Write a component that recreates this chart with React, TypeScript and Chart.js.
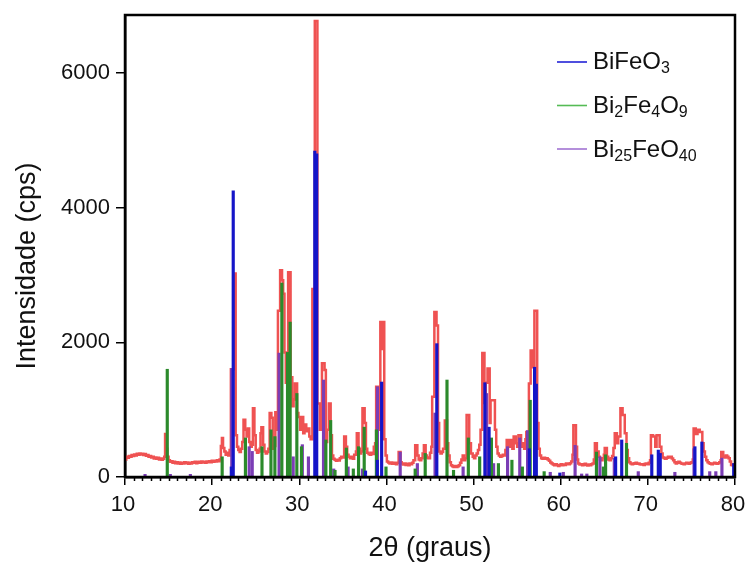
import { useEffect, useRef } from "react";
import { Chart, registerables } from "chart.js";

Chart.register(...registerables);

const FAMILY = "'Liberation Sans', Arial, Helvetica, sans-serif";

// axis ranges and tick values
const X_MIN = 10;
const X_MAX = 80;
const Y_MIN = 0;
const Y_MAX = 6860;
const X_TICKS = [10, 20, 30, 40, 50, 60, 70, 80];
const Y_TICKS = [0, 2000, 4000, 6000];

const X_TITLE = "2θ (graus)";
const Y_TITLE = "Intensidade (cps)";

// measured diffractogram: [2θ where the step starts, intensity in cps]
const measured: [number, number][] = [
  [10.0, 260], [10.15, 300], [10.3, 285], [10.45, 310], [10.6, 300], [10.75, 325], [10.9, 310], [11.05, 335],
  [11.2, 320], [11.35, 345], [11.5, 330], [11.65, 350], [11.8, 335], [11.95, 345], [12.1, 325], [12.25, 340],
  [12.4, 315], [12.55, 325], [12.7, 300], [12.85, 310], [13.0, 290], [13.15, 300], [13.3, 275], [13.45, 290],
  [13.6, 270], [13.75, 285], [13.9, 260], [14.05, 275], [14.2, 255], [14.35, 270], [14.5, 300], [14.6, 640],
  [14.72, 420], [14.85, 300], [15.0, 250], [15.15, 225], [15.3, 235], [15.45, 210], [15.6, 225], [15.75, 205],
  [15.9, 220], [16.05, 200], [16.2, 215], [16.35, 195], [16.5, 210], [16.65, 200], [16.8, 220], [16.95, 205],
  [17.1, 215], [17.25, 195], [17.4, 210], [17.55, 200], [17.7, 220], [17.85, 210], [18.0, 225], [18.15, 205],
  [18.3, 215], [18.45, 225], [18.6, 210], [18.75, 230], [18.9, 215], [19.05, 225], [19.2, 210], [19.35, 230],
  [19.5, 220], [19.65, 235], [19.8, 220], [19.95, 240], [20.1, 225], [20.25, 240], [20.4, 230], [20.55, 250],
  [20.7, 235], [20.85, 260], [21.0, 460], [21.12, 580], [21.25, 430], [21.4, 380], [21.55, 330], [21.7, 360],
  [21.85, 320], [22.0, 400], [22.15, 1600], [22.42, 3020], [22.7, 620], [22.85, 450], [23.0, 400], [23.15, 370],
  [23.3, 420], [23.45, 520], [23.6, 850], [23.8, 700], [23.95, 600], [24.1, 720], [24.25, 520], [24.4, 450],
  [24.55, 480], [24.68, 1020], [24.85, 620], [25.0, 400], [25.15, 360], [25.3, 380], [25.45, 420], [25.55, 650],
  [25.65, 740], [25.85, 480], [26.0, 380], [26.15, 350], [26.3, 370], [26.45, 420], [26.6, 950], [26.8, 880],
  [26.95, 420], [27.1, 460], [27.25, 960], [27.4, 700], [27.55, 2470], [27.8, 3070], [28.02, 2920], [28.15, 2720],
  [28.3, 1850], [28.45, 1400], [28.6, 1700], [28.72, 3040], [29.0, 1480], [29.2, 1050], [29.35, 1150], [29.5, 1390],
  [29.75, 950], [29.9, 890], [30.1, 700], [30.25, 890], [30.45, 650], [30.6, 780], [30.8, 680], [30.95, 720],
  [31.15, 600], [31.3, 560], [31.5, 2790], [31.78, 6770], [32.08, 1090], [32.35, 700], [32.6, 1690], [32.9, 1590],
  [33.05, 520], [33.2, 700], [33.4, 1090], [33.6, 620], [33.75, 320], [33.9, 270], [34.05, 255], [34.2, 240],
  [34.35, 255], [34.5, 245], [34.65, 280], [34.8, 300], [35.0, 290], [35.15, 600], [35.35, 450], [35.5, 330],
  [35.65, 300], [35.8, 280], [36.0, 300], [36.15, 270], [36.3, 330], [36.5, 380], [36.6, 650], [36.8, 420],
  [36.95, 350], [37.1, 380], [37.25, 1020], [37.5, 800], [37.65, 420], [37.8, 360], [37.95, 340], [38.1, 330],
  [38.25, 360], [38.4, 340], [38.55, 450], [38.7, 500], [38.82, 1340], [39.05, 700], [39.3, 2300], [39.45, 1900],
  [39.6, 2300], [39.75, 560], [39.9, 320], [40.05, 230], [40.2, 215], [40.35, 200], [40.5, 215], [40.65, 195],
  [40.8, 210], [40.95, 200], [41.1, 190], [41.25, 210], [41.4, 370], [41.62, 220], [41.75, 200], [41.9, 185],
  [42.05, 200], [42.2, 180], [42.35, 195], [42.5, 175], [42.65, 200], [42.8, 190], [42.95, 210], [43.1, 250],
  [43.3, 470], [43.55, 320], [43.7, 260], [43.85, 250], [44.0, 280], [44.15, 350], [44.3, 470], [44.5, 320],
  [44.65, 290], [44.8, 280], [45.0, 360], [45.15, 450], [45.25, 1190], [45.5, 2450], [45.75, 2250], [45.92, 800],
  [46.05, 380], [46.2, 350], [46.35, 370], [46.5, 420], [46.7, 840], [46.95, 500], [47.1, 320], [47.25, 220],
  [47.4, 175], [47.55, 160], [47.7, 150], [47.85, 165], [48.0, 150], [48.15, 160], [48.3, 175], [48.45, 210],
  [48.6, 260], [48.75, 320], [48.9, 250], [49.05, 280], [49.2, 920], [49.5, 500], [49.7, 350], [49.9, 300],
  [50.05, 280], [50.2, 320], [50.35, 350], [50.5, 400], [50.65, 480], [50.8, 700], [51.0, 1840], [51.25, 1100],
  [51.4, 1400], [51.6, 1610], [51.85, 800], [51.95, 1140], [52.45, 700], [52.6, 450], [52.75, 350], [52.9, 320],
  [53.05, 300], [53.2, 310], [53.35, 330], [53.5, 320], [53.65, 400], [53.8, 550], [54.05, 450], [54.2, 550],
  [54.45, 420], [54.6, 600], [54.85, 500], [55.0, 450], [55.15, 620], [55.45, 450], [55.6, 500], [55.8, 420],
  [55.95, 560], [56.05, 670], [56.35, 1390], [56.55, 1880], [56.8, 1630], [56.98, 2470], [57.3, 800], [57.45, 420],
  [57.6, 320], [57.75, 280], [57.9, 270], [58.05, 285], [58.2, 270], [58.35, 280], [58.5, 260], [58.65, 240],
  [58.8, 215], [58.95, 200], [59.1, 185], [59.25, 175], [59.4, 190], [59.55, 175], [59.7, 165], [59.85, 180],
  [60.0, 190], [60.15, 175], [60.3, 185], [60.45, 180], [60.6, 200], [60.75, 195], [60.9, 190], [61.05, 205],
  [61.2, 230], [61.35, 330], [61.45, 770], [61.75, 450], [61.88, 260], [62.0, 200], [62.15, 185], [62.3, 190],
  [62.45, 175], [62.6, 185], [62.75, 195], [62.9, 180], [63.05, 170], [63.2, 185], [63.35, 175], [63.5, 190],
  [63.65, 200], [63.8, 260], [63.92, 500], [64.15, 380], [64.35, 300], [64.5, 260], [64.65, 250], [64.8, 280],
  [64.95, 330], [65.05, 430], [65.3, 300], [65.45, 260], [65.6, 250], [65.75, 280], [65.9, 310], [66.05, 430],
  [66.2, 650], [66.45, 500], [66.6, 600], [66.85, 1020], [67.1, 920], [67.35, 650], [67.55, 400], [67.7, 280],
  [67.85, 220], [68.0, 200], [68.15, 190], [68.3, 195], [68.45, 205], [68.6, 210], [68.75, 195], [68.9, 200],
  [69.05, 190], [69.2, 185], [69.35, 190], [69.5, 180], [69.65, 195], [69.8, 200], [69.95, 190], [70.1, 210],
  [70.25, 250], [70.35, 620], [70.6, 600], [70.85, 450], [71.0, 620], [71.35, 450], [71.55, 350], [71.7, 290],
  [71.85, 280], [72.0, 270], [72.15, 285], [72.3, 300], [72.45, 290], [72.6, 300], [72.75, 275], [72.9, 250],
  [73.05, 220], [73.2, 200], [73.35, 210], [73.5, 225], [73.65, 210], [73.8, 200], [73.95, 195], [74.1, 190],
  [74.25, 200], [74.4, 210], [74.55, 200], [74.7, 195], [74.85, 210], [75.0, 220], [75.15, 260], [75.25, 720],
  [75.5, 640], [75.7, 700], [75.95, 670], [76.25, 500], [76.4, 380], [76.55, 300], [76.7, 250], [76.85, 220],
  [77.0, 205], [77.15, 195], [77.3, 190], [77.45, 200], [77.6, 210], [77.75, 200], [77.9, 195], [78.05, 205],
  [78.2, 220], [78.35, 250], [78.42, 370], [78.65, 300], [78.8, 290], [78.95, 320], [79.1, 300], [79.25, 280],
  [79.4, 230], [79.55, 180], [79.7, 175], [79.85, 190], [80.0, 200],
];

// reference patterns: [2θ, intensity]
const bifeo3: [number, number][] = [
  [22.2, 150], [22.42, 4250], [31.78, 4840], [32.0, 4800], [37.6, 90], [38.95, 250], [39.45, 1410],
  [45.78, 1980], [51.3, 1400], [51.78, 740], [56.4, 420], [57.0, 1630], [57.2, 1380], [59.9, 60],
  [66.3, 300], [67.0, 550], [70.45, 330], [71.2, 400], [71.42, 350], [75.4, 450], [76.2, 520], [79.85, 200],
];

const bi2fe4o9: [number, number][] = [
  [14.85, 1600], [21.15, 300], [23.82, 580], [25.72, 450], [26.75, 700], [27.2, 600], [28.0, 2880],
  [28.65, 1850], [28.95, 2300], [29.72, 1240], [30.25, 450], [33.05, 550], [33.6, 840], [34.1, 100],
  [35.4, 430], [36.2, 120], [36.8, 450], [37.45, 740], [38.85, 700], [39.95, 150], [43.3, 120],
  [44.45, 350], [46.95, 1440], [47.7, 100], [49.4, 580], [50.7, 300], [52.05, 580], [52.85, 200],
  [54.4, 250], [55.6, 150], [56.5, 1140], [58.1, 80], [64.1, 370], [64.9, 150], [65.15, 330], [67.55, 500],
];

const bi25feo40: [number, number][] = [
  [12.3, 40], [15.2, 40], [17.5, 40], [22.25, 1610], [24.25, 450], [24.6, 380], [27.68, 1840],
  [29.3, 300], [30.35, 480], [31.05, 300], [32.78, 1440], [33.95, 120], [35.6, 150], [37.25, 120],
  [38.97, 1340], [41.58, 370], [43.55, 200], [45.58, 950], [48.8, 150], [51.5, 1240], [52.3, 200],
  [53.9, 450], [55.3, 580], [56.2, 690], [58.8, 70], [60.3, 70], [61.65, 470], [62.4, 45], [63.0, 45],
  [64.5, 300], [66.15, 280], [68.9, 80], [73.1, 70], [75.3, 420], [77.1, 80], [77.8, 80], [78.5, 280],
];

// legend labels split into normal / subscript runs
const legendLabels: [string, boolean][][] = [
  [["BiFeO", false], ["3", true]],
  [["Bi", false], ["2", true], ["Fe", false], ["4", true], ["O", false], ["9", true]],
  [["Bi", false], ["25", true], ["FeO", false], ["40", true]],
];

const RED = "#ef5252";
const STICK_COLORS = ["#1515c8", "#2b8a2b", "#7b3db5"];
const LEGEND_COLORS = ["#2323d6", "#55bb55", "#a274d2"];

const toXY = (arr: [number, number][]) => arr.map(([x, y]) => ({ x, y }));

const framePlugin = {
  id: "frame",
  afterDraw(chart: any) {
    const { ctx, chartArea, scales } = chart;
    const { left, right, top, bottom } = chartArea;
    const xs = scales.x;
    ctx.save();
    // minor ticks every degree
    ctx.strokeStyle = "#000";
    ctx.lineWidth = 1.5;
    for (let v = X_MIN; v <= X_MAX; v += 1) {
      if (v % 10 === 0) continue;
      const px = Math.round(xs.getPixelForValue(v)) + 0.5;
      ctx.beginPath();
      ctx.moveTo(px, bottom);
      ctx.lineTo(px, bottom + 4);
      ctx.stroke();
    }
    // box
    ctx.lineWidth = 2.5;
    ctx.strokeRect(left, top, right - left, bottom - top);

    // axis titles
    ctx.fillStyle = "#111";
    ctx.font = `27px ${FAMILY}`;
    ctx.textAlign = "center";
    ctx.textBaseline = "middle";
    ctx.fillText(X_TITLE, (left + right) / 2, 549);
    ctx.save();
    ctx.translate(28, 266);
    ctx.rotate(-Math.PI / 2);
    ctx.fillText(Y_TITLE, 0, 0);
    ctx.restore();

    // legend
    ctx.textAlign = "left";
    ctx.textBaseline = "alphabetic";
    legendLabels.forEach((runs, i) => {
      const ly = 62 + i * 43.5;
      ctx.strokeStyle = LEGEND_COLORS[i];
      ctx.lineWidth = 1.6;
      ctx.beginPath();
      ctx.moveTo(557, ly);
      ctx.lineTo(587, ly);
      ctx.stroke();
      let tx = 593;
      const base = 69 + i * 44;
      ctx.fillStyle = "#111";
      runs.forEach(([txt, sub]) => {
        ctx.font = sub ? `16px ${FAMILY}` : `24px ${FAMILY}`;
        ctx.fillText(txt, tx, sub ? base + 4 : base);
        tx += ctx.measureText(txt).width;
      });
    });
    ctx.restore();
  },
};

export default function App() {
  const ref = useRef<HTMLCanvasElement | null>(null);

  useEffect(() => {
    if (!ref.current) return;
    const tickFont = { family: FAMILY, size: 22 };
    const stick = (label: string, data: [number, number][], color: string, order: number) => ({
      type: "bar" as const,
      label,
      data: toXY(data),
      backgroundColor: color,
      borderWidth: 0,
      barThickness: 2.5,
      grouped: false,
      order,
    });
    const chart = new Chart(ref.current, {
      type: "line",
      data: {
        datasets: [
          stick("BiFeO3", bifeo3, STICK_COLORS[0], 1),
          stick("Bi2Fe4O9", bi2fe4o9, STICK_COLORS[1], 2),
          stick("Bi25FeO40", bi25feo40, STICK_COLORS[2], 3),
          {
            type: "line" as const,
            label: "medido",
            data: toXY(measured),
            borderColor: RED,
            borderWidth: 2.5,
            pointRadius: 0,
            stepped: "before",
            fill: false,
            order: 4,
          },
        ] as any,
      },
      options: {
        animation: false,
        responsive: true,
        maintainAspectRatio: false,
        layout: { padding: { top: 15, right: 10, left: 0, bottom: 0 } },
        plugins: { legend: { display: false }, tooltip: { enabled: false } },
        scales: {
          x: {
            type: "linear",
            min: X_MIN,
            max: X_MAX,
            offset: false,
            afterFit: (s: any) => {
              s.height = 86;
              s.paddingLeft = 0;
              s.paddingRight = 0;
            },
            afterBuildTicks: (s: any) => {
              s.ticks = X_TICKS.map((value) => ({ value }));
            },
            ticks: {
              color: "#111",
              font: tickFont,
              padding: 7,
              labelOffset: -2,
              maxRotation: 0,
              autoSkip: false,
              callback: (v: any) => String(v),
            },
            grid: { offset: false, drawOnChartArea: false, tickLength: 8, color: "#000", lineWidth: 1.5 },
            border: { color: "#000", width: 2.5 },
          },
          y: {
            type: "linear",
            min: Y_MIN,
            max: Y_MAX,
            afterFit: (s: any) => {
              s.width = 125;
              s.paddingTop = 0;
              s.paddingBottom = 0;
            },
            afterBuildTicks: (s: any) => {
              s.ticks = Y_TICKS.map((value) => ({ value }));
            },
            ticks: {
              color: "#111",
              font: tickFont,
              padding: 6,
              callback: (v: any) => String(v),
            },
            grid: { drawOnChartArea: false, tickLength: 9, color: "#000", lineWidth: 1.5 },
            border: { color: "#000", width: 2.5 },
          },
        },
      } as any,
      plugins: [framePlugin],
    });
    return () => chart.destroy();
  }, []);

  return (
    <div style={{ position: "absolute", left: 0, top: 0, width: 745, height: 563, background: "#fff" }}>
      <canvas ref={ref} />
    </div>
  );
}
